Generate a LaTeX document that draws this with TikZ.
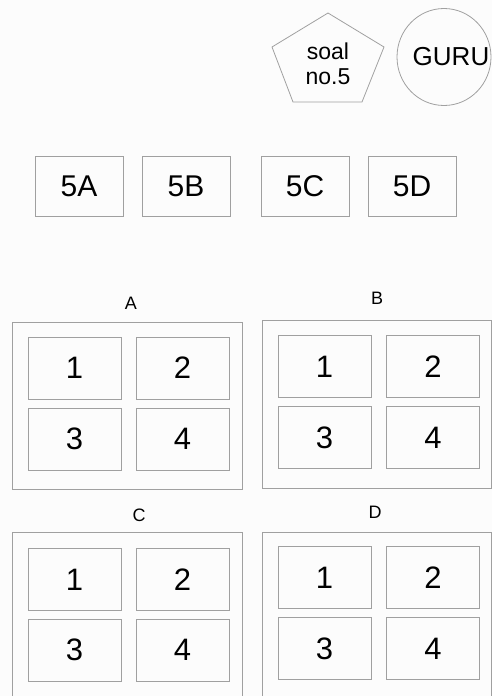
\documentclass[tikz,border=0pt]{standalone}
\usepackage{fontspec}
\setmainfont{Liberation Sans}
\usepackage{tikz}
\usetikzlibrary{shapes.geometric}
\definecolor{garisabu}{RGB}{160,160,160}
\definecolor{latar}{RGB}{252,252,252}

\begin{document}
\begin{tikzpicture}[x=1pt,y=-1pt,
  garis/.style={draw=garisabu, line width=0.8pt},
  kelas/.style={garis, rectangle, minimum width=88pt, minimum height=60pt, inner sep=0pt, font=\fontsize{30}{30}\selectfont},
  meja/.style={garis, rectangle, minimum width=93pt, minimum height=62pt, inner sep=0pt, font=\fontsize{31}{31}\selectfont},
  ruang/.style={garis, rectangle, inner sep=0pt, minimum width=230pt, minimum height=167pt},
  judul/.style={font=\fontsize{18}{18}\selectfont}]
  \useasboundingbox (0,0) rectangle (492,696);
  \fill[latar] (0,0) rectangle (492,696);
  \clip (0,0) rectangle (492,696);

  % soal dan guru
  \draw[garis] (328,13) -- (384,47) -- (362,102) -- (293,102) -- (272,47) -- cycle;
  \node[align=center, font=\fontsize{23}{25}\selectfont] (soal) at (328,64) {soal\\no.5};
  \node[garis, ellipse, minimum width=94pt, minimum height=97pt, inner sep=0pt,
        label={[font=\fontsize{26}{26}\selectfont, xshift=7pt]center:GURU}] (guru) at (444,57) {};

  % kelas
  \node[kelas] (k5a) at (79,186) {5A};
  \node[kelas] (k5b) at (186,186) {5B};
  \node[kelas] (k5c) at (305,186) {5C};
  \node[kelas] (k5d) at (412,186) {5D};

  % ruang A
  \node[judul] (labA) at (131,303) {A};
  \node[ruang] (ruangA) at (127,405.5) {};
  \node[meja] (a1) at (74.5,368) {1};
  \node[meja] (a2) at (182.5,368) {2};
  \node[meja] (a3) at (74.5,439) {3};
  \node[meja] (a4) at (182.5,439) {4};

  % ruang B
  \node[judul] (labB) at (377,298) {B};
  \node[ruang, minimum width=229pt, minimum height=168pt] (ruangB) at (376.5,404) {};
  \node[meja] (b1) at (324.5,366.5) {1};
  \node[meja] (b2) at (433,366.5) {2};
  \node[meja] (b3) at (324.5,437.5) {3};
  \node[meja] (b4) at (433,437.5) {4};

  % ruang C
  \node[judul] (labC) at (139,515) {C};
  \node[ruang] (ruangC) at (127,615.5) {};
  \node[meja] (c1) at (74.5,579.5) {1};
  \node[meja] (c2) at (182.5,579.5) {2};
  \node[meja] (c3) at (74.5,650) {3};
  \node[meja] (c4) at (182.5,650) {4};

  % ruang D
  \node[judul] (labD) at (375,512.5) {D};
  \node[ruang, minimum width=229pt] (ruangD) at (376.5,615.5) {};
  \node[meja] (d1) at (324.5,577.5) {1};
  \node[meja] (d2) at (433,577.5) {2};
  \node[meja] (d3) at (324.5,648.5) {3};
  \node[meja] (d4) at (433,648.5) {4};
\end{tikzpicture}
\end{document}
